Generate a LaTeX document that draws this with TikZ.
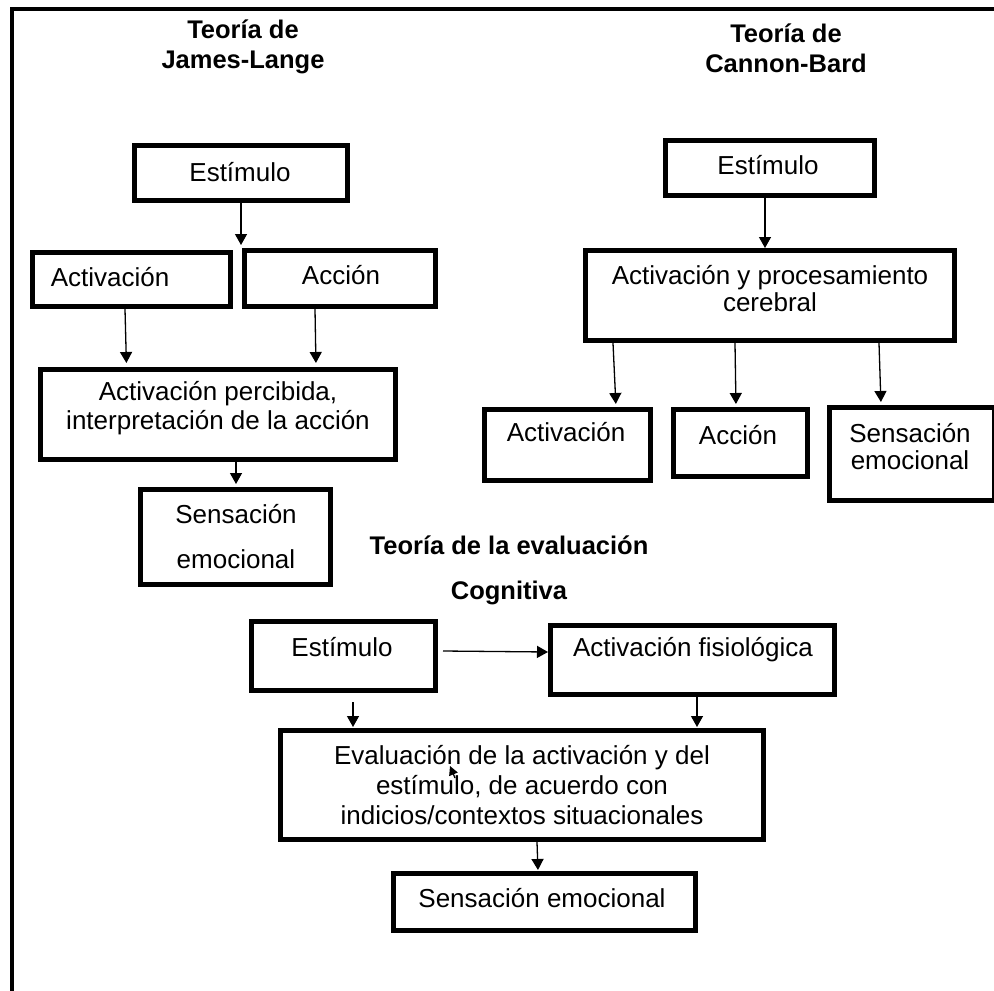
\documentclass[tikz,border=0pt]{standalone}
\usepackage{fontspec}
\setmainfont{Liberation Sans}
\usetikzlibrary{arrows.meta}
\begin{document}
\begin{tikzpicture}[x=1pt,y=-1pt,
  box/.style={draw=black, line width=5pt, inner sep=0pt},
  txt/.style={font=\fontsize{26}{29}\selectfont, align=center, inner sep=0pt},
  oneline/.style={text height=18.6pt, text depth=0pt},
  ttl/.style={font=\bfseries\fontsize{25.5}{30}\selectfont, align=center, inner sep=0pt},
  arr/.style={line width=1.3pt, -{Triangle[width=12pt,length=11pt]}},
  smallarr/.style={line width=1.3pt, -{Triangle[width=9pt,length=9pt]}},
  frameline/.style={line width=4.5pt, line join=miter}]
\useasboundingbox (0,0) rectangle (994,991);

% outer frame (only top and left sides visible)
\draw[frameline] (12,998) -- (12,9) -- (1000,9);

% ---------- James-Lange ----------
\node[ttl] (jltitle) at (243,47) {Teoría de\\James-Lange};
\node[box, minimum width=213pt, minimum height=55pt] (jlest) at (241,173) {};
\node[txt, oneline] (jlestT) at (240,172) {Estímulo};
\node[box, minimum width=198pt, minimum height=54pt] (jlact) at (131.5,279.5) {};
\node[txt, oneline] (jlactT) at (110,277) {Activación};
\node[box, minimum width=191pt, minimum height=56pt] (jlacc) at (340,278.5) {};
\node[txt, oneline] (jlaccT) at (341,275) {Acción};
\node[box, minimum width=355pt, minimum height=90pt] (jlperc) at (218,414.5) {};
\node[txt] (jlpercT) at (218,408) {Activación percibida,\\interpretación de la acción};
\node[box, minimum width=190pt, minimum height=95pt] (jlsen) at (235.5,537) {};
\node[txt, font=\fontsize{26}{45}\selectfont] (jlsenT) at (236,537) {Sensación\\emocional};
\coordinate (jlgap) at (241,245);

\draw[arr] (jlest.south) -- (jlgap);
\draw[arr, shorten >=4pt] ([xshift=-6.5pt]jlact.south) -- ([xshift=-91.5pt]jlperc.north);
\draw[arr, shorten >=4pt] ([xshift=-25pt]jlacc.south) -- ([xshift=98pt]jlperc.north);
\draw[arr, shorten >=3pt] ([xshift=18pt]jlperc.south) -- ([xshift=0.5pt]jlsen.north);

% ---------- Cannon-Bard ----------
\node[ttl] (cbtitle) at (786,48) {Teoría de\\Cannon-Bard};
\node[box, minimum width=209pt, minimum height=55pt] (cbest) at (770,168) {};
\node[txt, oneline] (cbestT) at (768,165) {Estímulo};
\node[box, minimum width=369pt, minimum height=90pt] (cbproc) at (770,295.5) {};
\node[txt, font=\fontsize{26}{27}\selectfont] (cbprocT) at (770,289) {Activación y procesamiento\\cerebral};
\node[box, minimum width=166pt, minimum height=71pt] (cbact) at (567.5,445) {};
\node[txt, oneline] (cbactT) at (566,432) {Activación};
\node[box, minimum width=134pt, minimum height=67pt] (cbacc) at (740.5,443) {};
\node[txt, oneline] (cbaccT) at (738,435) {Acción};
\node[box, minimum width=165pt, minimum height=93pt] (cbsen) at (912,454) {};
\node[txt, font=\fontsize{26}{27}\selectfont] (cbsenT) at (910,447) {Sensación\\emocional};

\draw[arr] ([xshift=-5pt,yshift=5pt]cbest.south) -- ([xshift=-5pt]cbproc.north);
\draw[arr, shorten >=3pt] ([xshift=-157pt]cbproc.south) -- ([xshift=48.5pt]cbact.north);
\draw[arr, shorten >=3pt] ([xshift=-35pt]cbproc.south) -- ([xshift=-4.5pt]cbacc.north);
\draw[arr, shorten >=3pt] ([xshift=109pt]cbproc.south) -- ([xshift=-31pt]cbsen.north);

% ---------- Evaluación cognitiva ----------
\node[ttl, font=\bfseries\fontsize{25.5}{45}\selectfont] (cetitle) at (509,570) {Teoría de la evaluación\\Cognitiva};
\node[box, minimum width=184pt, minimum height=69pt] (ceest) at (343.5,656) {};
\node[txt, oneline] (ceestT) at (342,647) {Estímulo};
\node[box, minimum width=284pt, minimum height=69pt] (ceaf) at (692.5,660) {};
\node[txt, oneline] (ceafT) at (693,647) {Activación fisiológica};
\node[box, minimum width=483pt, minimum height=109pt] (ceeval) at (522,785) {};
\node[txt, font=\fontsize{26}{30}\selectfont] (ceevalT) at (522,785) {Evaluación de la activación y del\\estímulo, de acuerdo con\\indicios/contextos situacionales};
\node[box, minimum width=302pt, minimum height=57pt] (cesen) at (544.5,902) {};
\node[txt, oneline] (cesenT) at (542,898) {Sensación emocional};

\draw[arr] ([xshift=5pt,yshift=5pt]ceest.east) -- ([yshift=8pt]ceaf.west);
\draw[arr, shorten >=1pt] ([xshift=9.5pt,yshift=-9pt]ceest.south) -- ([xshift=-169pt]ceeval.north);
\draw[arr, shorten >=1pt] ([xshift=4.5pt]ceaf.south) -- ([xshift=175pt]ceeval.north);
\draw[arr, shorten >=1pt] ([xshift=15pt]ceeval.south) -- ([xshift=-6.5pt]cesen.north);

\coordinate (strayA) at (455,778);
\coordinate (strayB) at (450,766);
\draw[smallarr] (strayA) -- (strayB);
\end{tikzpicture}
\end{document}
